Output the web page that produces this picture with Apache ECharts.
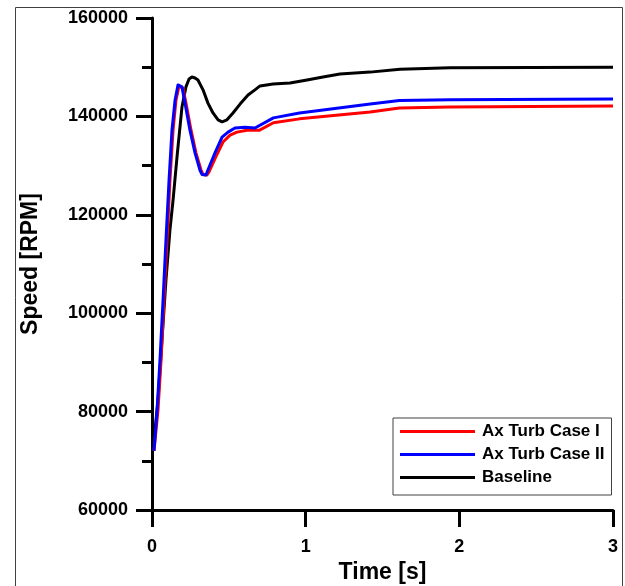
<!DOCTYPE html>
<html>
<head>
<meta charset="utf-8">
<script src="https://cdn.jsdelivr.net/npm/echarts@6/dist/echarts.min.js"></script>
<style>
  html, body { margin: 0; padding: 0; background: #fff; }
  #chart { width: 625px; height: 586px; }
</style>
</head>
<body>
<div id="chart"></div>
<script>
// Rotor speed response [RPM] over time [s]
const caseITime = [0.013, 0.039, 0.059, 0.078, 0.098, 0.117, 0.137, 0.156, 0.176, 0.189, 0.202, 0.221, 0.254, 0.286, 0.319, 0.332, 0.345, 0.358, 0.371, 0.416, 0.462, 0.508, 0.553, 0.618, 0.70, 0.79, 0.96, 1.42, 1.61, 1.94, 3.0];
const caseISpeed = [72000, 80300, 90500, 102700, 114900, 127100, 137200, 143300, 146200, 146600, 145700, 142700, 137200, 132600, 129100, 128200, 127900, 128100, 128700, 131800, 134800, 136200, 136800, 137200, 137200, 138700, 139500, 140900, 141700, 141900, 142100];

const caseIITime = [0.013, 0.033, 0.052, 0.072, 0.091, 0.111, 0.130, 0.150, 0.169, 0.182, 0.195, 0.215, 0.247, 0.280, 0.312, 0.325, 0.338, 0.351, 0.364, 0.41, 0.456, 0.495, 0.54, 0.605, 0.67, 0.79, 0.96, 1.42, 1.61, 1.94, 3.0];
const caseIISpeed = [72000, 80300, 90500, 102700, 114900, 127100, 137200, 143300, 146400, 146700, 146000, 142700, 137200, 132600, 129100, 128200, 127900, 128100, 129100, 132600, 135800, 136800, 137650, 137800, 137650, 139700, 140700, 142500, 143250, 143400, 143550];

const baselineTime = [0.007, 0.039, 0.065, 0.091, 0.117, 0.137, 0.165, 0.195, 0.221, 0.241, 0.26, 0.28, 0.299, 0.332, 0.364, 0.397, 0.43, 0.456, 0.488, 0.527, 0.573, 0.625, 0.67, 0.703, 0.787, 0.898, 1.009, 1.113, 1.223, 1.419, 1.614, 1.939, 3.0];
const baselineSpeed = [72000, 82400, 94550, 106750, 117000, 123000, 132500, 141900, 146000, 147600, 148000, 147800, 147400, 145400, 142700, 140700, 139300, 138900, 139300, 140700, 142500, 144350, 145400, 146200, 146600, 146800, 147400, 148000, 148600, 149000, 149600, 149900, 150000];

const seriesNames = ['Ax Turb Case I', 'Ax Turb Case II', 'Baseline'];
const xTicks = { min: 0, max: 3, step: 1 };
const yTicks = { min: 60000, max: 160000, step: 20000 };

const pairs = (t, v) => t.map((x, i) => [x, v[i]]);
const FONT = "'Liberation Sans', Arial, sans-serif";

const chart = echarts.init(document.getElementById('chart'), null, { renderer: 'canvas' });

const lineSeries = (name, color, t, v) => ({
  name, type: 'line', data: pairs(t, v), showSymbol: false, symbol: 'none',
  lineStyle: { color, width: 3, join: 'round' }, itemStyle: { color }, animation: false
});

chart.setOption({
  animation: false,
  backgroundColor: '#fff',
  grid: { left: 152, right: 12, top: 18, bottom: 76, containLabel: false, outerBoundsMode: 'none' },
  graphic: [{
    type: 'rect', left: 13, top: 5, silent: true,
    shape: { width: 607, height: 580 },
    style: { fill: 'none', stroke: '#404040', lineWidth: 1 }
  }],
  legend: {
    orient: 'vertical', left: 393, top: 418,
    data: seriesNames,
    icon: 'rect', itemWidth: 75, itemHeight: 3, itemGap: 6,
    padding: [5, 7, 9, 7],
    borderColor: '#404040', borderWidth: 1, backgroundColor: '#fff',
    textStyle: { fontFamily: FONT, fontWeight: 'bold', fontSize: 17, color: '#000', padding: [0, 0, 0, 2] }
  },
  xAxis: {
    type: 'value', min: xTicks.min, max: xTicks.max, interval: xTicks.step,
    name: 'Time [s]', nameLocation: 'middle', nameGap: 51,
    nameTextStyle: { fontFamily: FONT, fontWeight: 'bold', fontSize: 23, color: '#000' },
    axisLine: { show: true, onZero: false, lineStyle: { color: '#000', width: 3 } },
    axisTick: { show: true, length: 17, lineStyle: { color: '#000', width: 3 } },
    axisLabel: { margin: 28, fontFamily: FONT, fontWeight: 'bold', fontSize: 18, color: '#000', formatter: v => String(v) },
    splitLine: { show: false }
  },
  yAxis: {
    type: 'value', min: yTicks.min, max: yTicks.max, interval: yTicks.step,
    name: 'Speed [RPM]', nameLocation: 'middle', nameGap: 110,
    nameTextStyle: { fontFamily: FONT, fontWeight: 'bold', fontSize: 23, color: '#000' },
    axisLine: { show: true, onZero: false, lineStyle: { color: '#000', width: 3 } },
    axisTick: { show: true, length: 16, lineStyle: { color: '#000', width: 3 } },
    minorTick: { show: true, splitNumber: 2, length: 10, lineStyle: { color: '#000', width: 3 } },
    axisLabel: { margin: 24, fontFamily: FONT, fontWeight: 'bold', fontSize: 18, color: '#000', formatter: v => String(v) },
    splitLine: { show: false }
  },
  series: [
    lineSeries(seriesNames[2], '#000000', baselineTime, baselineSpeed),
    lineSeries(seriesNames[0], '#ff0000', caseITime, caseISpeed),
    lineSeries(seriesNames[1], '#0000ff', caseIITime, caseIISpeed)
  ]
});
</script>
</body>
</html>
